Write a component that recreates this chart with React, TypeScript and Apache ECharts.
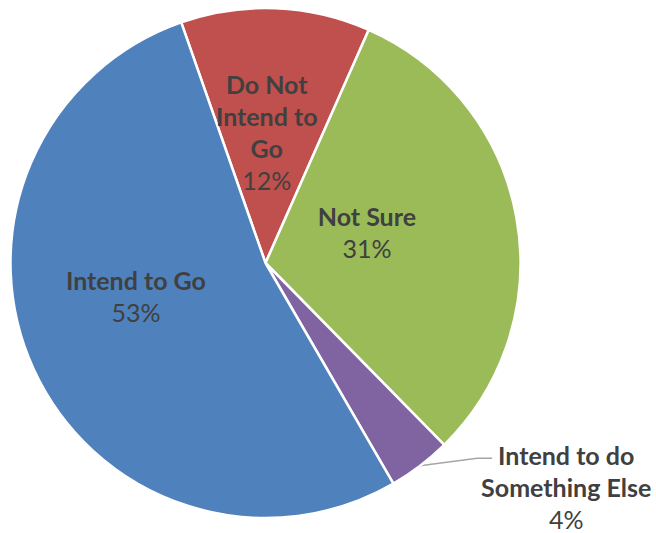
import React, { useEffect, useRef } from "react";
import * as echarts from "echarts";

const categories = ["Do Not Intend to Go", "Not Sure", "Intend to do Something Else", "Intend to Go"];
const labelTexts = ["Do Not\nIntend to\nGo", "Not Sure", "Intend to do\nSomething Else", "Intend to Go"];
const values = [12, 31, 4, 53];
const colors = ["#C0504D", "#9BBB59", "#8064A2", "#4F81BD"];

const FONT = "Lato, 'Open Sans', sans-serif";
const FS = 25;
const LH = 32;
const OUTSIDE_INDEX = 2;
const labelOffsets: number[][] = [[-4, -1], [-27, -8], [-8, 9], [-11, -22]];

function measure(text: string, weight: string) {
  const c = document.createElement("canvas").getContext("2d");
  if (!c) return text.length * FS * 0.5;
  c.font = `${weight} ${FS}px Lato`;
  return c.measureText(text).width;
}

export default function App() {
  const ref = useRef<HTMLDivElement>(null);
  useEffect(() => {
    document.body.style.margin = "0";
    if (!ref.current) return;
    const chart = echarts.init(ref.current, undefined, { renderer: "svg" });
    const firstLineW = measure(labelTexts[OUTSIDE_INDEX].split("\n")[0], "bold");
    chart.setOption({
      animation: false,
      backgroundColor: "#ffffff",
      series: [
        {
          type: "pie",
          center: [265.5, 263],
          radius: 255,
          startAngle: 109.3,
          clockwise: true,
          avoidLabelOverlap: false,
          emphasis: { disabled: true },
          itemStyle: { borderColor: "#ffffff", borderWidth: 2.5 },
          label: {
            position: "inside",
            formatter: (p: any) => `{n|${labelTexts[p.dataIndex]}}\n{v|${p.value}%}`,
            rich: {
              n: { fontFamily: FONT, fontWeight: "bold", fontSize: FS, lineHeight: LH, color: "#404040", align: "center" },
              v: { fontFamily: FONT, fontWeight: "normal", fontSize: FS, lineHeight: LH, color: "#404040", align: "center" },
            },
          },
          labelLine: {
            length: 15,
            length2: 55,
            lineStyle: { color: "#A6A6A6", width: 1.5 },
          },
          labelLayout: (p: any) => {
            const [dx, dy] = labelOffsets[p.dataIndex];
            const res: any = { dx, dy };
            if (p.dataIndex === OUTSIDE_INDEX && p.labelLinePoints && p.labelRect) {
              const r = p.labelRect;
              const x0 = r.x + dx;
              const y0 = r.y + dy;
              const endX = x0 + (r.width - firstLineW) / 2 - 6;
              const endY = y0 + LH / 2;
              const s = p.labelLinePoints[0];
              res.labelLinePoints = [[s[0], s[1]], [endX - 15, endY], [endX, endY]];
            }
            return res;
          },
          data: values.map((v, i) => ({
            value: v,
            name: categories[i],
            itemStyle: { color: colors[i] },
            label: { position: i === OUTSIDE_INDEX ? "outside" : "inside" },
            labelLine: { show: i === OUTSIDE_INDEX },
          })),
        },
      ],
    });
    return () => chart.dispose();
  }, []);
  return <div ref={ref} style={{ width: 656, height: 533 }} />;
}
